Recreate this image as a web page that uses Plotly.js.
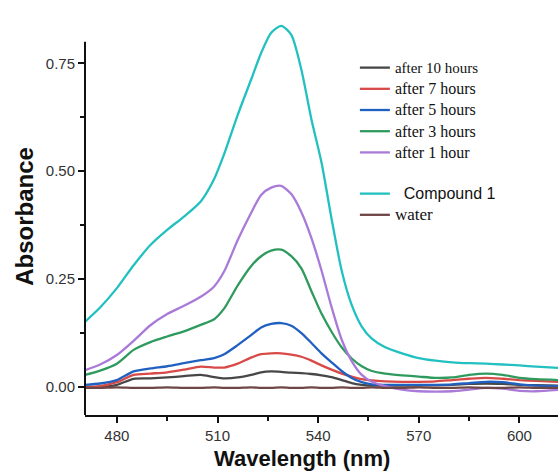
<!DOCTYPE html>
<html>
<head>
<meta charset="utf-8">
<script src="https://cdn.plot.ly/plotly-3.0.1.min.js"></script>
<style>html,body{margin:0;padding:0;background:#fff;}#chart{width:558px;height:473px;}</style>
</head>
<body>
<div id="chart"></div>
<script>
const wavelength = [470.5,475,480,485,490,495,500,505,509,512,516,520,523,526,529,532,535,538,541,544,547,550,553,556,560,565,570,575,580,585,590,595,600,605,611.5];

const after10h = [0.0,0.0,0.005,0.019,0.020,0.022,0.025,0.028,0.023,0.020,0.022,0.028,0.034,0.036,0.035,0.033,0.032,0.030,0.027,0.023,0.016,0.009,0.005,0.003,0.003,0.003,0.003,0.004,0.005,0.007,0.008,0.007,0.005,0.004,0.003];
const after7h = [0.0,0.002,0.011,0.028,0.031,0.034,0.040,0.047,0.045,0.045,0.054,0.068,0.076,0.078,0.078,0.075,0.070,0.061,0.050,0.040,0.031,0.024,0.018,0.015,0.013,0.012,0.012,0.013,0.016,0.019,0.021,0.019,0.016,0.014,0.012];
const after5h = [0.005,0.008,0.016,0.036,0.043,0.048,0.055,0.062,0.067,0.076,0.097,0.120,0.138,0.146,0.148,0.142,0.125,0.102,0.078,0.057,0.037,0.021,0.011,0.006,0.005,0.005,0.005,0.005,0.006,0.009,0.012,0.011,0.006,0.003,0.002];
const after3h = [0.028,0.038,0.054,0.086,0.104,0.117,0.129,0.144,0.157,0.182,0.235,0.280,0.303,0.316,0.318,0.303,0.275,0.222,0.170,0.128,0.092,0.066,0.048,0.037,0.031,0.027,0.024,0.021,0.022,0.028,0.031,0.028,0.021,0.018,0.016];
const after1h = [0.039,0.052,0.074,0.107,0.143,0.169,0.188,0.209,0.233,0.268,0.340,0.403,0.445,0.462,0.466,0.447,0.405,0.345,0.270,0.185,0.110,0.060,0.028,0.012,0.002,-0.006,-0.010,-0.011,-0.010,-0.006,-0.002,-0.004,-0.009,-0.010,-0.007];
const compound1 = [0.151,0.184,0.229,0.282,0.329,0.364,0.395,0.430,0.482,0.540,0.630,0.712,0.774,0.821,0.837,0.816,0.735,0.620,0.520,0.390,0.270,0.190,0.140,0.112,0.092,0.078,0.067,0.061,0.057,0.055,0.054,0.052,0.050,0.047,0.044];
const water = [-0.002,-0.002,-0.001,-0.002,-0.002,-0.001,-0.002,-0.002,-0.001,-0.002,-0.002,-0.001,-0.002,-0.002,-0.001,-0.002,-0.002,-0.001,-0.002,-0.002,-0.001,-0.002,-0.002,-0.001,-0.002,-0.002,-0.001,-0.002,-0.002,-0.001,-0.002,-0.002,-0.001,-0.002,-0.002];

const seriesNames = ['after 10 hours','after 7 hours','after 5 hours','after 3 hours','after 1 hour','Compound 1','water'];
const seriesColors = ['#474747','#d84a48','#2060c0','#2f9a5e','#a97ad8','#22c0c0','#6e4646'];
const seriesValues = [after10h, after7h, after5h, after3h, after1h, compound1, water];
const seriesGroups = ['a','a','a','a','a','b','b'];
const labelSizes = [15, 16, 16, 16, 16, 16, 17];

const traces = seriesValues.map((vals, i) => ({
  x: wavelength,
  y: vals,
  type: 'scatter',
  mode: 'lines',
  name: seriesNames[i] === 'Compound 1'
    ? '<span style="font-family:Liberation Sans, Arial, sans-serif;font-size:' + labelSizes[i] + 'px">&nbsp;&nbsp;' + seriesNames[i] + '</span>'
    : '<span style="font-size:' + labelSizes[i] + 'px">' + seriesNames[i] + '</span>',
  legendgroup: seriesGroups[i],
  line: {color: seriesColors[i], width: 2.3, shape: 'spline', smoothing: 0.7}
}));

const layout = {
  width: 558,
  height: 473,
  margin: {l: 85, r: 0, t: 12, b: 58},
  paper_bgcolor: '#fff',
  plot_bgcolor: '#fff',
  showlegend: true,
  legend: {
    x: 0.5706, y: 0.9007, xanchor: 'left', yanchor: 'top',
    bgcolor: 'rgba(0,0,0,0)',
    font: {family: 'Liberation Serif, Times New Roman, serif', size: 14, color: '#111'},
    tracegroupgap: 20,
    traceorder: 'grouped'
  },
  xaxis: {
    range: [470.5, 611.5],
    tick0: 480, dtick: 30,
    ticks: 'outside', ticklen: 6, tickwidth: 2, tickcolor: '#111',
    showline: true, linecolor: '#111', linewidth: 2,
    showgrid: false, zeroline: false,
    tickfont: {family: 'Liberation Sans, Arial, sans-serif', size: 15, color: '#333'},
    minor: {tick0: 495, dtick: 30, ticks: 'outside', ticklen: 4, tickwidth: 2, tickcolor: '#111', showgrid: false}
  },
  yaxis: {
    range: [-0.065, 0.869],
    tickvals: [0, 0.25, 0.5, 0.75],
    ticktext: ['0.00', '0.25', '0.50', '0.75'],
    ticks: 'outside', ticklen: 6, tickwidth: 2, tickcolor: '#111',
    showline: false,
    showgrid: false, zeroline: false,
    tickfont: {family: 'Liberation Sans, Arial, sans-serif', size: 15, color: '#333'},
    minor: {tickvals: [0.125, 0.375, 0.625], ticks: 'outside', ticklen: 4, tickwidth: 2, tickcolor: '#111', showgrid: false}
  },
  shapes: [
    {type: 'line', xref: 'paper', yref: 'y', x0: 0, x1: 0, y0: -0.065, y1: 0.80,
     line: {color: '#111', width: 2}}
  ],
  annotations: [
    {text: '<b>Wavelength (nm)</b>', xref: 'paper', yref: 'paper', x: 0.459, y: -0.107,
     xanchor: 'center', yanchor: 'middle', showarrow: false,
     font: {family: 'Liberation Sans, Arial, sans-serif', size: 22, color: '#111'}},
    {text: '<b>Absorbance</b>', xref: 'paper', yref: 'paper', x: -0.127, y: 0.494,
     xanchor: 'center', yanchor: 'middle', showarrow: false, textangle: -90,
     font: {family: 'Liberation Sans, Arial, sans-serif', size: 24, color: '#111'}}
  ]
};

Plotly.newPlot('chart', traces, layout, {displayModeBar: false, staticPlot: true});
</script>
</body>
</html>
